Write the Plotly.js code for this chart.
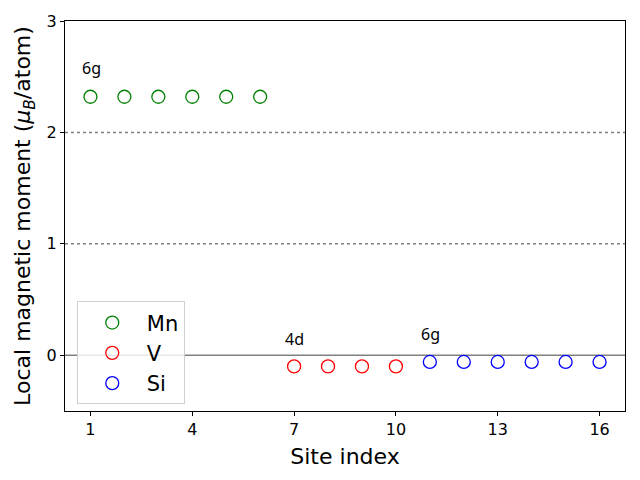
<!DOCTYPE html>
<html><head><meta charset="utf-8">
<script src="https://cdn.plot.ly/plotly-3.0.1.min.js"></script>
<style>body{margin:0}#c{width:640px;height:480px}</style>
</head><body><div id="c"></div>
<script>
const mnSites = [1, 2, 3, 4, 5, 6];
const mnMoments = [2.32, 2.32, 2.32, 2.32, 2.32, 2.32];
const vSites = [7, 8, 9, 10];
const vMoments = [-0.10, -0.10, -0.10, -0.10];
const siSites = [11, 12, 13, 14, 15, 16];
const siMoments = [-0.06, -0.06, -0.06, -0.06, -0.06, -0.06];
const xTicks = [1, 4, 7, 10, 13, 16];
const yTicks = [0, 1, 2, 3];
const labels = [{x: 0.68, y: 2.58, t: "6g"}, {x: 6.68, y: 0.15, t: "4d"}, {x: 10.68, y: 0.19, t: "6g"}];
const refLines = [1, 2];

function series(x, y, name, color) {
  return {x: x, y: y, name: name, type: 'scatter', mode: 'markers',
    marker: {symbol: 'circle-open', size: 13, color: color, line: {width: 1.3, color: color}}};
}
const data = [
  series(mnSites, mnMoments, 'Mn', 'green'),
  series(vSites, vMoments, 'V', 'red'),
  series(siSites, siMoments, 'Si', 'blue')
];
const shapes = refLines.map(v => ({type: 'line', xref: 'paper', x0: 0, x1: 1, yref: 'y', y0: v, y1: v,
  line: {color: 'gray', width: 1.5, dash: 'dot'}, layer: 'below'}));
shapes.push({type: 'line', xref: 'paper', x0: 0, x1: 1, yref: 'y', y0: 0, y1: 0,
  line: {color: 'gray', width: 1.5}, layer: 'below'});
const annotations = labels.map(a => ({x: a.x, y: a.y, text: a.t, showarrow: false, xanchor: 'left', yanchor: 'middle',
  font: {family: 'Noto Sans, DejaVu Sans', size: 16, color: 'black'}}));

const layout = {
  width: 640, height: 480,
  margin: {l: 65, r: 15, t: 21, b: 69},
  paper_bgcolor: 'white', plot_bgcolor: 'white',
  font: {family: 'DejaVu Sans', color: 'black'},
  showlegend: true,
  legend: {x: 0.021, y: 0.281, xanchor: 'left', yanchor: 'top', bgcolor: 'rgba(255,255,255,0.8)',
    bordercolor: '#d0d0d0', borderwidth: 1, font: {size: 21, family: 'DejaVu Sans'}, itemwidth: 59, tracegroupgap: 2},
  xaxis: {range: [0.25, 16.75], tickvals: xTicks, ticks: 'outside', ticklen: 4, tickcolor: 'black',
    showgrid: false, zeroline: false, showline: true, linecolor: 'black', linewidth: 1, mirror: true,
    tickfont: {size: 16}, title: {text: 'Site index', font: {size: 22}, standoff: 10}},
  yaxis: {range: [-0.5, 3], tickvals: yTicks, ticks: 'outside', ticklen: 4, tickcolor: 'black',
    showgrid: false, zeroline: false, showline: true, linecolor: 'black', linewidth: 1, mirror: true,
    tickfont: {size: 16}, title: {text: 'Local magnetic moment (<i>μ<sub>B</sub></i>/atom)', font: {size: 22}, standoff: 9}},
  shapes: shapes,
  annotations: annotations
};
Plotly.newPlot('c', data, layout, {displayModeBar: false, staticPlot: true});
</script></body></html>
